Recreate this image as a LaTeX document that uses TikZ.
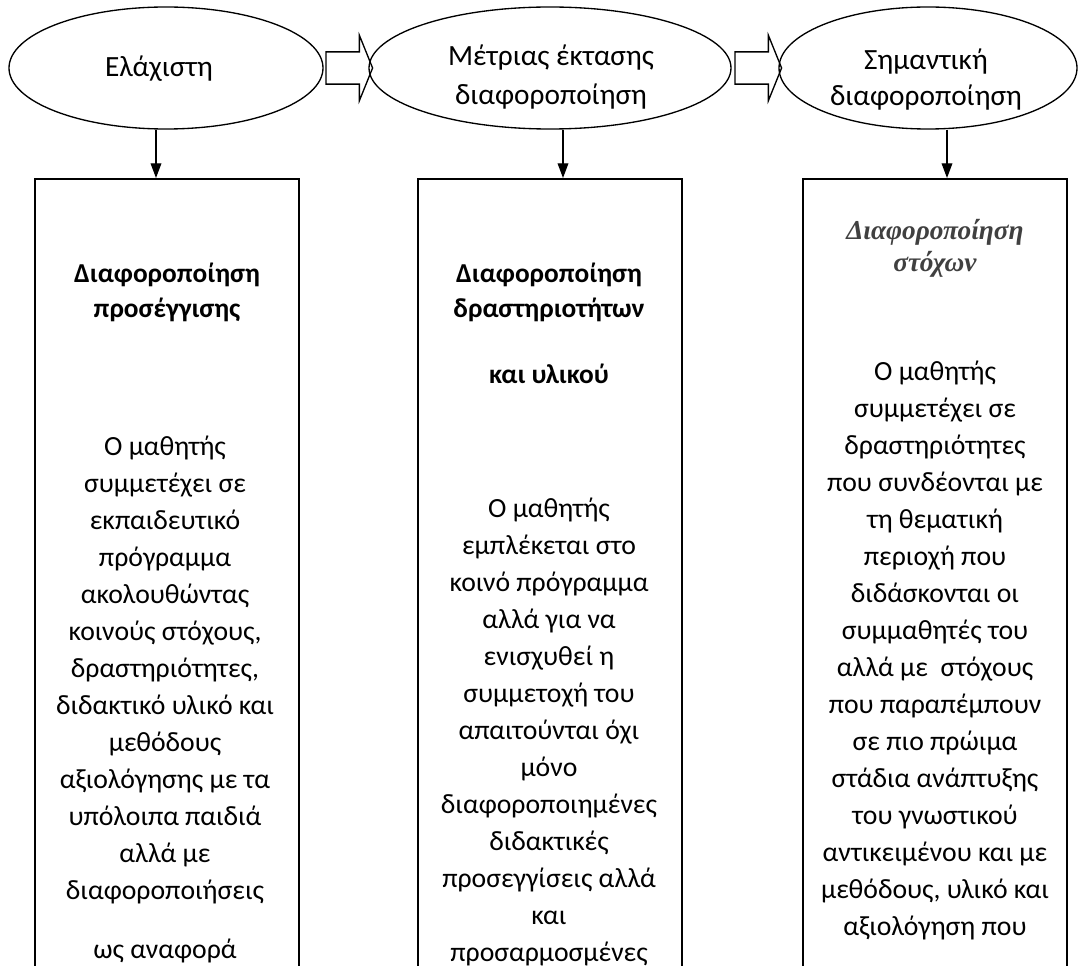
\documentclass[tikz,border=0pt]{standalone}
\usepackage{fontspec}
\setmainfont{Carlito}
\newfontfamily\timesgr{Liberation Serif}
\usetikzlibrary{shapes.geometric,shapes.arrows,arrows.meta,calc,positioning}
\definecolor{headgray}{RGB}{64,64,64}

\tikzset{
    stage/.style={draw, ellipse, line width=1pt, inner sep=0pt, minimum height=91.5pt},
    stagetext/.style={font=\fontsize{22pt}{26pt}\selectfont, anchor=base, inner sep=0pt},
    panel/.style={draw, rectangle, line width=1.2pt, anchor=north, minimum width=198pt, minimum height=700pt},
    nextstage/.style={draw, single arrow, line width=1pt, inner xsep=0pt, inner ysep=11.6pt,
        single arrow head extend=12.4pt, single arrow tip angle=136, minimum height=35pt},
    down/.style={-{Triangle[length=11pt, width=8pt]}, line width=1pt},
    headtext/.style={font=\fontsize{20.5pt}{24pt}\selectfont\bfseries, anchor=base, inner sep=0pt},
    bodytext/.style={font=\fontsize{20.8pt}{24pt}\selectfont, anchor=base, inner sep=0pt}
}

\begin{document}
\begin{tikzpicture}[x=0.75pt, y=-0.75pt]
    \useasboundingbox (0,0) rectangle (1081,966);
    \clip (0,0) rectangle (1081,966);

    % Levels of differentiation
    \node[stage, minimum width=235.5pt] (least) at (166,68) {};
    \node[stage, minimum width=271.5pt] (middle) at (550,68) {};
    \node[stage, minimum width=223.5pt] (major) at (928,68) {};

    \node[stagetext] (least-a) at (159,77) {Ελάχιστη};
    \node[stagetext] (middle-a) at (551,66) {Μέτριας έκτασης};
    \node[stagetext] (middle-b) at (551,105) {διαφοροποίηση};
    \node[stagetext] (major-a) at (926,70) {Σημαντική};
    \node[stagetext] (major-b) at (926,106) {διαφοροποίηση};

    \node[nextstage] (shift1) at ($(least.east)!0.5!(middle.west)$) {};
    \node[nextstage] (shift2) at ($(middle.east)!0.5!(major.west)$) {};

    % Columns
    \node[panel] (col1) at (167,178) {};
    \node[panel] (col2) at (550,178) {};
    \node[panel] (col3) at (935,178) {};

    \draw[down] ([xshift=-7.5pt]least.south) -- ([xshift=-8.25pt]col1.north);
    \draw[down] ([xshift=9.75pt]middle.south) -- ([xshift=9.75pt]col2.north);
    \draw[down] ([xshift=14.25pt]major.south) -- ([xshift=9pt]col3.north);

    % Minimal differentiation
    \node[headtext] (h1-a) at (167,282) {Διαφοροποίηση};
    \node[headtext] (h1-b) at (167,317) {προσέγγισης};
    \foreach \line [count=\i from 0] in {Ο μαθητής, συμμετέχει σε, εκπαιδευτικό, πρόγραμμα,
        ακολουθώντας, {κοινούς στόχους,}, {δραστηριότητες,}, διδακτικό υλικό και, μεθόδους,
        αξιολόγησης με τα, υπόλοιπα παιδιά, αλλά με, διαφοροποιήσεις}
        \node[bodytext] (t1-\i) at (165,{455+37*\i}) {\line};
    \node[bodytext] (t1-end) at (165,958) {ως αναφορά};

    % Moderate differentiation
    \node[headtext] (h2-a) at (549,282) {Διαφοροποίηση};
    \node[headtext] (h2-b) at (549,317) {δραστηριοτήτων};
    \node[headtext] (h2-c) at (549,383) {και υλικού};
    \foreach \line [count=\i from 0] in {Ο μαθητής, εμπλέκεται στο, κοινό πρόγραμμα, αλλά για να,
        ενισχυθεί η, συμμετοχή του, απαιτούνται όχι, μόνο, διαφοροποιημένες, διδακτικές,
        προσεγγίσεις αλλά, και, προσαρμοσμένες}
        \node[bodytext] (t2-\i) at (549,{517+37*\i}) {\line};

    % Major differentiation
    \node[headtext, font=\fontsize{20.5pt}{24pt}\selectfont\timesgr\bfseries\itshape, text=headgray] (h3-a) at (935,240) {Διαφοροποίηση};
    \node[headtext, font=\fontsize{20.5pt}{24pt}\selectfont\timesgr\bfseries\itshape, text=headgray] (h3-b) at (935,272) {στόχων};
    \foreach \line [count=\i from 0] in {Ο μαθητής, συμμετέχει σε, δραστηριότητες, που συνδέονται με,
        τη θεματική, περιοχή που, διδάσκονται οι, συμμαθητές του, αλλά με\ \ στόχους,
        που παραπέμπουν, σε πιο πρώιμα, στάδια ανάπτυξης, του γνωστικού, αντικειμένου και με,
        {μεθόδους, υλικό και}, αξιολόγηση που}
        \node[bodytext] (t3-\i) at (935,{380+37*\i}) {\line};
\end{tikzpicture}
\end{document}
